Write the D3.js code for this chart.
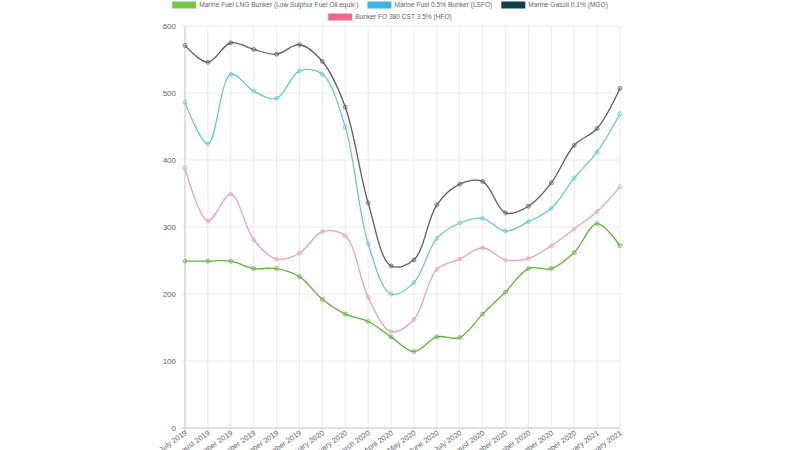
<!DOCTYPE html>
<html><head><meta charset="utf-8">
<script src="https://cdn.jsdelivr.net/npm/d3@7/dist/d3.min.js"></script>
<style>body{margin:0;background:#fff;}svg{display:block;font-family:"Liberation Sans",Arial,sans-serif;}</style>
</head><body><svg id="c" width="800" height="450"></svg>
<script>
const months = ["July 2019","August 2019","September 2019","October 2019","November 2019","December 2019","January 2020","February 2020","March 2020","April 2020","May 2020","June 2020","July 2020","August 2020","September 2020","October 2020","November 2020","December 2020","January 2021","February 2021"];
const lngValues = [249,249,249,238,238,226,192,170,159,136,114,136,135,170,203,238,238,262,305,272];
const lsfoValues = [486,424,528,503,492,533,528,449,275,200,217,283,306,313,294,308,328,373,412,469];
const mgoValues = [571,546,575,565,558,572,547,479,336,242,251,333,364,368,321,331,366,422,447,507];
const hfoValues = [388,309,349,281,252,261,293,287,195,144,162,237,252,269,251,253,272,297,323,360];
const yTicks = [0,100,200,300,400,500,600];
const seriesNames = ["Marine Fuel LNG Bunker (Low Sulphur Fuel Oil equiv.)","Marine Fuel 0.5% Bunker (LSFO)","Marine Gasoil 0.1% (MGO)","Bunker FO 380 CST 3.5% (HFO)"];

const series = [
  {name:seriesNames[0], values:lngValues, legend:"#74c64a", line:"#62b041"},
  {name:seriesNames[1], values:lsfoValues, legend:"#41b3e6", line:"#6cc6d2"},
  {name:seriesNames[2], values:mgoValues, legend:"#0f3e4f", line:"#5a5f62"},
  {name:seriesNames[3], values:hfoValues, legend:"#f0668c", line:"#e4a5b7"}
];

const svg = d3.select("#c");
const L=185, R=620, T=26, B=428;
const x = d3.scalePoint().domain(months).range([L,R]);
const y = d3.scaleLinear().domain([0,600]).range([B,T]);

// grid
const g = svg.append("g");
g.selectAll(".vg").data(months).enter().append("line")
  .attr("x1",d=>x(d)).attr("x2",d=>x(d)).attr("y1",T).attr("y2",B+4)
  .attr("stroke","#ececec").attr("stroke-width",1);
g.selectAll(".hg").data(yTicks).enter().append("line")
  .attr("x1",L-4).attr("x2",R).attr("y1",d=>y(d)).attr("y2",d=>y(d))
  .attr("stroke","#ececec").attr("stroke-width",1);
g.append("line").attr("x1",L).attr("x2",L).attr("y1",T).attr("y2",B+4).attr("stroke","#cccccc");
g.append("line").attr("x1",L-4).attr("x2",R).attr("y1",B).attr("y2",B).attr("stroke","#cccccc");

// y axis labels
const yAxis = d3.axisLeft(y).tickValues(yTicks).tickSize(0).tickPadding(9);
const ya = svg.append("g").attr("transform",`translate(${L},0)`).call(yAxis);
ya.select(".domain").remove();
ya.selectAll("text").attr("font-size",8).attr("fill","#666").attr("font-family","Liberation Sans, Arial, sans-serif");

// x axis labels
const xAxis = d3.axisBottom(x).tickSize(0).tickPadding(0);
const xa = svg.append("g").attr("transform",`translate(0,${B})`).call(xAxis);
xa.select(".domain").remove();
xa.selectAll("text").attr("font-size",7.5).attr("fill","#666").attr("font-family","Liberation Sans, Arial, sans-serif")
  .attr("text-anchor","end").attr("y",0).attr("dy",0)
  .attr("transform","translate(2,6) rotate(-35)");

// lines
const line = d3.line().x((d,i)=>x(months[i])).y(d=>y(d)).curve(d3.curveCatmullRom.alpha(0.5));
const order = [2,1,3,0];
order.forEach(k=>{
  const s = series[k];
  svg.append("path").datum(s.values).attr("d",line).attr("fill","none")
    .attr("stroke",s.line).attr("stroke-width",1.3);
  svg.append("g").selectAll("circle").data(s.values).enter().append("circle")
    .attr("cx",(d,i)=>x(months[i])).attr("cy",d=>y(d)).attr("r",2)
    .attr("fill",s.line).attr("fill-opacity",0.2).attr("stroke",s.line).attr("stroke-opacity",0.7).attr("stroke-width",1);
});

// legend
const lg = svg.append("g").attr("font-size",6.6).attr("fill","#666");
const rows = [[0,1,2],[3]];
const rowY = [5,17];
const boxW=24, boxH=7, gap=3, itemGap=9;
rows.forEach((row,ri)=>{
  const items = row.map(k=>{
    const t = lg.append("text").text(series[k].name).attr("visibility","hidden");
    const w = t.node().getComputedTextLength(); t.remove();
    return {k,w};
  });
  const total = d3.sum(items,d=>boxW+gap+d.w) + itemGap*(items.length-1);
  let cx = 390 - total/2;
  items.forEach(it=>{
    lg.append("rect").attr("x",cx).attr("y",rowY[ri]-boxH/2).attr("width",boxW).attr("height",boxH)
      .attr("fill",series[it.k].legend);
    lg.append("text").attr("x",cx+boxW+gap).attr("y",rowY[ri]).attr("dy","0.35em")
      .attr("fill","#666").text(series[it.k].name);
    cx += boxW+gap+it.w+itemGap;
  });
});
</script></body></html>
